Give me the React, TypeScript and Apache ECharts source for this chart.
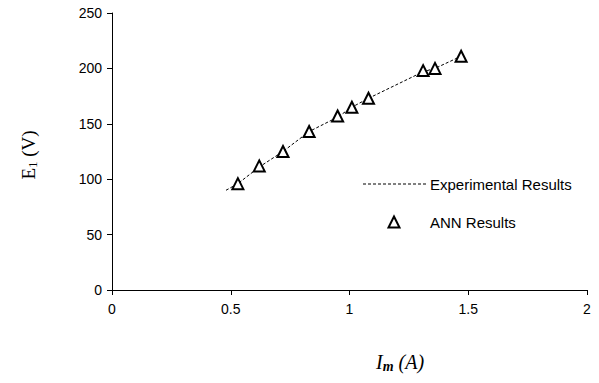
import React, { useEffect, useRef } from "react";
import * as echarts from "echarts";

const expX = [0.48, 0.53, 0.62, 0.72, 0.83, 0.95, 1.01, 1.08, 1.31, 1.36, 1.47];
const expY = [90, 96, 111, 125, 143, 156, 165, 173, 197, 200, 211];
const annX = [0.53, 0.62, 0.72, 0.83, 0.95, 1.01, 1.08, 1.31, 1.36, 1.47];
const annY = [96, 112, 125, 143, 157, 165, 173, 198, 200, 211];
const xTicks = [0, 0.5, 1, 1.5, 2];
const yTicks = [0, 50, 100, 150, 200, 250];

export default function App() {
  const ref = useRef<HTMLDivElement>(null);
  useEffect(() => {
    const chart = echarts.init(ref.current!, null, { renderer: "svg" });
    const font = "'Liberation Sans', Arial, sans-serif";
    const serif = "'Liberation Serif', 'Times New Roman', serif";
    chart.setOption({
      animation: false,
      backgroundColor: "#ffffff",
      grid: { left: 112, right: 12, top: 13, bottom: 93 },
      xAxis: {
        type: "value",
        min: xTicks[0],
        max: xTicks[xTicks.length - 1],
        interval: 0.5,
        axisLine: { show: true, lineStyle: { color: "#000", width: 1 } },
        axisTick: { show: true, length: 5, lineStyle: { color: "#000" } },
        splitLine: { show: false },
        axisLabel: { color: "#000", fontFamily: font, fontSize: 14, margin: 12 },
      },
      yAxis: {
        type: "value",
        min: yTicks[0],
        max: yTicks[yTicks.length - 1],
        interval: 50,
        axisLine: { show: true, lineStyle: { color: "#000", width: 1 } },
        axisTick: { show: true, length: 5, lineStyle: { color: "#000" } },
        splitLine: { show: false },
        axisLabel: { color: "#000", fontFamily: font, fontSize: 14, margin: 10 },
      },
      series: [
        {
          name: "Experimental Results",
          type: "line",
          data: expX.map((x, i) => [x, expY[i]]),
          showSymbol: false,
          symbol: "none",
          lineStyle: { color: "#000", width: 1, type: [3, 2] },
          z: 1,
        },
        {
          name: "ANN Results",
          type: "scatter",
          data: annX.map((x, i) => [x, annY[i]]),
          symbol: "triangle",
          symbolSize: 11,
          itemStyle: { color: "#fff", borderColor: "#000", borderWidth: 2, opacity: 1 },
          z: 2,
        },
      ],
      graphic: [
        {
          type: "line",
          shape: { x1: 363, y1: 184, x2: 426, y2: 184 },
          style: { stroke: "#000", lineWidth: 1, lineDash: [3, 2] },
        },
        {
          type: "text",
          x: 430,
          y: 184,
          style: { text: "Experimental Results", fill: "#000", font: `15px ${font}`, verticalAlign: "middle" },
        },
        {
          type: "polygon",
          shape: { points: [[394, 216.5], [399.5, 227.5], [388.5, 227.5]] },
          style: { fill: "#fff", stroke: "#000", lineWidth: 2 },
        },
        {
          type: "text",
          x: 430,
          y: 222,
          style: { text: "ANN Results", fill: "#000", font: `15px ${font}`, verticalAlign: "middle" },
        },
        {
          type: "text",
          x: 376,
          y: 362,
          style: {
            text: "{i|I}{s|m}{n| (A)}",
            verticalAlign: "middle",
            rich: {
              i: { fontFamily: serif, fontStyle: "italic", fontSize: 20, fill: "#000" },
              s: { fontFamily: serif, fontStyle: "italic", fontWeight: "bold", fontSize: 14, fill: "#000", padding: [8, 0, 0, 0] },
              n: { fontFamily: serif, fontStyle: "italic", fontSize: 20, fill: "#000" },
            },
          },
        },
        {
          type: "text",
          x: 28,
          y: 155,
          rotation: Math.PI / 2,
          style: {
            text: "{e|E}{s|1}{n| (V)}",
            align: "center",
            verticalAlign: "middle",
            rich: {
              e: { fontFamily: serif, fontSize: 19, fill: "#000" },
              s: { fontFamily: serif, fontSize: 13, fill: "#000", padding: [8, 0, 0, 0] },
              n: { fontFamily: serif, fontSize: 19, fill: "#000" },
            },
          },
        },
      ],
    });
    return () => chart.dispose();
  }, []);
  return <div ref={ref} style={{ width: 599, height: 383, position: "absolute", left: 0, top: 0 }} />;
}
